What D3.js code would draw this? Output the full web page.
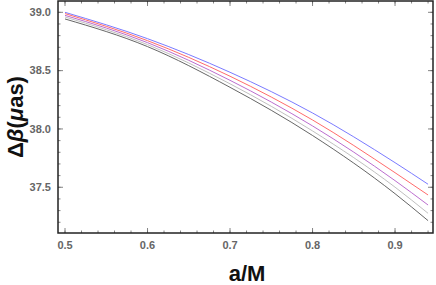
<!DOCTYPE html>
<html>
<head>
<meta charset="utf-8">
<script src="https://cdn.jsdelivr.net/npm/d3@7"></script>
<style>
  body { margin: 0; background: #fff; }
  svg { display: block; font-family: "Liberation Sans", Arial, sans-serif; }
</style>
</head>
<body>
<svg id="chart" width="436" height="285"></svg>
<script>
const spin = [0.5, 0.6, 0.7, 0.8, 0.9, 0.94];
const blueVals = [39.0, 38.774, 38.486, 38.137, 37.711, 37.526];
const redVals = [38.989, 38.757, 38.452, 38.077, 37.625, 37.434];
const purpleVals = [38.974, 38.740, 38.417, 38.026, 37.557, 37.348];
const grayVals = [38.960, 38.723, 38.387, 37.983, 37.501, 37.277];
const blackVals = [38.943, 38.706, 38.357, 37.944, 37.445, 37.214];
const xTicks = [0.5, 0.6, 0.7, 0.8, 0.9];
const yTicks = [37.5, 38.0, 38.5, 39.0];

const series = [
  { vals: blueVals, color: "#6b6bff" },
  { vals: redVals, color: "#ff5a5a" },
  { vals: purpleVals, color: "#b35cc8" },
  { vals: grayVals, color: "#b8b8b8" },
  { vals: blackVals, color: "#555" },
];

const margin = { top: 1, right: 3, bottom: 52, left: 58 };
const W = 436, H = 285;
const w = W - margin.left - margin.right;
const h = H - margin.top - margin.bottom;

const x = d3.scaleLinear().domain([0.4915, 0.946]).range([0, w]);
const y = d3.scaleLinear().domain([37.108, 39.097]).range([h, 0]);

const svg = d3.select("#chart");
const g = svg.append("g").attr("transform", `translate(${margin.left},${margin.top})`);

// curves
const line = d3.line()
  .x((d, i) => x(spin[i]))
  .y((d) => y(d))
  .curve(d3.curveMonotoneX);

series.forEach((s) => {
  g.append("path")
    .datum(s.vals)
    .attr("d", line)
    .attr("fill", "none")
    .attr("stroke", s.color)
    .attr("stroke-width", 0.9);
});

// ticks, inside the frame on all four sides
const xMinor = d3.range(0.5, 0.9401, 0.02);
const yMinor = d3.range(37.2, 39.05, 0.1);
const tickColor = "#666";

function xTickMarks(vals, len) {
  vals.forEach((v) => {
    g.append("line").attr("x1", x(v)).attr("x2", x(v)).attr("y1", h).attr("y2", h - len)
      .attr("stroke", tickColor).attr("stroke-width", 0.8);
    g.append("line").attr("x1", x(v)).attr("x2", x(v)).attr("y1", 0).attr("y2", len)
      .attr("stroke", tickColor).attr("stroke-width", 0.8);
  });
}
function yTickMarks(vals, len) {
  vals.forEach((v) => {
    g.append("line").attr("x1", 0).attr("x2", len).attr("y1", y(v)).attr("y2", y(v))
      .attr("stroke", tickColor).attr("stroke-width", 0.8);
    g.append("line").attr("x1", w).attr("x2", w - len).attr("y1", y(v)).attr("y2", y(v))
      .attr("stroke", tickColor).attr("stroke-width", 0.8);
  });
}
xTickMarks(xMinor, 2.5);
xTickMarks(xTicks, 5);
yTickMarks(yMinor, 2.5);
yTickMarks(yTicks, 5);

// frame
g.append("rect")
  .attr("x", 0).attr("y", 0).attr("width", w).attr("height", h)
  .attr("fill", "none").attr("stroke", "#222").attr("stroke-width", 1.5);

// tick labels
g.selectAll(".xl").data(xTicks).enter().append("text")
  .attr("x", (d) => x(d)).attr("y", h + 16)
  .attr("text-anchor", "middle")
  .attr("font-size", 11).attr("font-weight", "bold").attr("fill", "#666")
  .text((d) => d3.format(".1f")(d));

g.selectAll(".yl").data(yTicks).enter().append("text")
  .attr("x", -7).attr("y", (d) => y(d)).attr("dy", "0.35em")
  .attr("text-anchor", "end")
  .attr("font-size", 11).attr("font-weight", "bold").attr("fill", "#666")
  .text((d) => d3.format(".1f")(d));

// axis titles
svg.append("text")
  .attr("x", 247).attr("y", 281)
  .attr("text-anchor", "middle")
  .attr("font-size", 22).attr("font-weight", "bold").attr("fill", "#111")
  .text("a/M");

const yt = svg.append("text")
  .attr("transform", "translate(23,117) rotate(-90)")
  .attr("text-anchor", "middle")
  .attr("font-size", 22).attr("font-weight", "bold").attr("fill", "#111");
yt.append("tspan").text("Δ");
yt.append("tspan").attr("font-style", "italic").text("β");
yt.append("tspan").text("(");
yt.append("tspan").attr("font-style", "italic").text("μ");
yt.append("tspan").text("as)");
</script>
</body>
</html>
